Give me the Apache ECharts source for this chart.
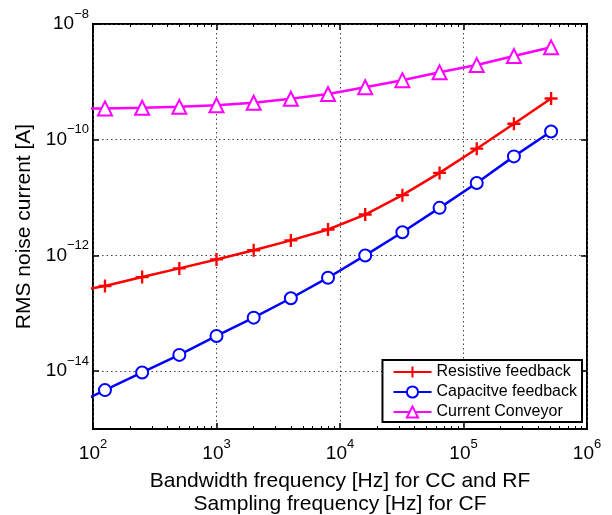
<!DOCTYPE html>
<html>
<head>
<meta charset="utf-8">
<script src="https://cdn.jsdelivr.net/npm/echarts@6/dist/echarts.min.js"></script>
<style>
html, body { margin: 0; padding: 0; background: #fff; }
#chart { width: 612px; height: 515px; }
</style>
</head>
<body>
<div id="chart"></div>
<script>
var freq = [62.5, 125, 250, 500, 1000, 2000, 4000, 8000, 16000, 32000, 64000, 128000, 256000, 512000];
var resistive = [2.3e-13, 2.96e-13, 4.23e-13, 5.97e-13, 8.53e-13, 1.23e-12, 1.82e-12, 2.81e-12, 5.09e-12, 1.10e-11, 2.67e-11, 7.0e-11, 1.89e-10, 5.15e-10];
var capacitive = [2.3e-15, 4.70e-15, 9.5e-15, 1.91e-14, 4.06e-14, 8.41e-14, 1.82e-13, 4.12e-13, 1.0e-12, 2.52e-12, 6.64e-12, 1.79e-11, 5.15e-11, 1.39e-10];
var conveyor = [3.44e-10, 3.48e-10, 3.56e-10, 3.70e-10, 3.95e-10, 4.35e-10, 5.10e-10, 6.15e-10, 8.05e-10, 1.07e-9, 1.46e-9, 1.95e-9, 2.80e-9, 3.95e-9];
var yTicks = [1e-14, 1e-12, 1e-10, 1e-8];
var xTicks = [1e2, 1e3, 1e4, 1e5, 1e6];
var xMinor = [];
for (var d = 2; d < 6; d++) {
    for (var m = 2; m <= 9; m++) xMinor.push(m * Math.pow(10, d));
}

function pairs(ys) {
    return freq.map(function (f, i) { return [f, ys[i]]; });
}

var font = 'Liberation Sans, Arial, Helvetica, sans-serif';
var powRich = {
    b: {fontSize: 19, fontFamily: font, color: '#000', height: 20, lineHeight: 27, verticalAlign: 'bottom'},
    s: {fontSize: 13, fontFamily: font, color: '#000', height: 14, lineHeight: 27, verticalAlign: 'top'}
};
function powLabel(v) {
    var e = Math.round(Math.log10(v));
    return '{b|10}{s|' + String(e).replace('-', '\u2212') + '}';
}
var plus = 'path://M-1,-0.18 L-0.18,-0.18 L-0.18,-1 L0.18,-1 L0.18,-0.18 L1,-0.18 L1,0.18 L0.18,0.18 L0.18,1 L-0.18,1 L-0.18,0.18 L-1,0.18 Z';
var grid = {
    left: 93, right: 25, top: 24, bottom: 86,
    outerBoundsMode: 'none', containLabel: false,
    show: true, borderColor: '#000', borderWidth: 2, backgroundColor: '#fff'
};
var dotted = {color: '#444', width: 1, type: [1.5, 3]};

var dom = document.getElementById('chart');
var chart = echarts.init(dom);
var option = {
    animation: false,
    backgroundColor: '#fff',
    grid: grid,
    legend: {
        orient: 'vertical',
        right: 30,
        top: 360,
        padding: [4, 5, 2, 10],
        itemGap: 4,
        itemWidth: 38,
        itemHeight: 14,
        backgroundColor: '#fff',
        borderColor: '#000',
        borderWidth: 2,
        borderRadius: 0,
        textStyle: {fontFamily: font, fontSize: 16, color: '#000'},
        data: ['Resistive feedback', 'Capacitve feedback', 'Current Conveyor']
    },
    xAxis: [{
        type: 'log',
        logBase: 10,
        min: 1e2,
        max: 1e6,
        position: 'bottom',
        name: 'Bandwidth frequency [Hz] for CC and RF\nSampling frequency [Hz] for CF',
        nameLocation: 'middle',
        nameGap: 41,
        nameTextStyle: {fontFamily: font, fontSize: 21, color: '#000', lineHeight: 23},
        axisLine: {show: false},
        axisTick: {show: true, inside: true, length: 6, customValues: xTicks, lineStyle: {color: '#000', width: 1.5}},
        axisLabel: {margin: 8, customValues: xTicks, formatter: powLabel, rich: powRich},
        splitLine: {show: true, lineStyle: dotted}
    }, {
        type: 'log', min: 1e2, max: 1e6, position: 'bottom',
        axisLine: {show: false},
        axisTick: {show: true, inside: true, length: 3, customValues: xMinor, lineStyle: {color: '#000', width: 1}},
        axisLabel: {show: false},
        splitLine: {show: false}
    }, {
        type: 'log', min: 1e2, max: 1e6, position: 'top',
        axisLine: {show: false},
        axisTick: {show: true, inside: true, length: 6, customValues: xTicks, lineStyle: {color: '#000', width: 1.5}},
        axisLabel: {show: false},
        splitLine: {show: false}
    }, {
        type: 'log', min: 1e2, max: 1e6, position: 'top',
        axisLine: {show: false},
        axisTick: {show: true, inside: true, length: 3, customValues: xMinor, lineStyle: {color: '#000', width: 1}},
        axisLabel: {show: false},
        splitLine: {show: false}
    }],
    yAxis: [{
        type: 'log',
        logBase: 10,
        min: 1e-15,
        max: 1e-8,
        position: 'left',
        name: 'RMS noise current [A]',
        nameLocation: 'middle',
        nameGap: 57,
        nameTextStyle: {fontFamily: font, fontSize: 21, color: '#000'},
        axisLine: {show: false},
        axisTick: {show: true, inside: true, length: 6, customValues: yTicks, lineStyle: {color: '#000', width: 1.5}},
        axisLabel: {margin: 4, customValues: yTicks, formatter: powLabel, rich: powRich, padding: [0, 0, 7, 0]},
        splitLine: {show: true, lineStyle: dotted}
    }, {
        type: 'log', min: 1e-15, max: 1e-8, position: 'right',
        axisLine: {show: false},
        axisTick: {show: true, inside: true, length: 6, customValues: yTicks, lineStyle: {color: '#000', width: 1.5}},
        axisLabel: {show: false},
        splitLine: {show: false}
    }],
    series: [{
        name: 'Resistive feedback',
        type: 'line',
        data: pairs(resistive),
        symbol: plus,
        symbolSize: 13,
        itemStyle: {color: '#ff0000'},
        lineStyle: {color: '#ff0000', width: 2.5}
    }, {
        name: 'Capacitve feedback',
        type: 'line',
        data: pairs(capacitive),
        symbol: 'emptyCircle',
        symbolSize: 12,
        itemStyle: {color: '#0000ff', borderColor: '#0000ff', borderWidth: 2.5},
        lineStyle: {color: '#0000ff', width: 2.5}
    }, {
        name: 'Current Conveyor',
        type: 'line',
        data: pairs(conveyor),
        symbol: 'emptyTriangle',
        symbolSize: 14,
        itemStyle: {color: '#ff00ff', borderColor: '#ff00ff', borderWidth: 2.5},
        lineStyle: {color: '#ff00ff', width: 2.5}
    }]
};
chart.setOption(option, true);
</script>
</body>
</html>
